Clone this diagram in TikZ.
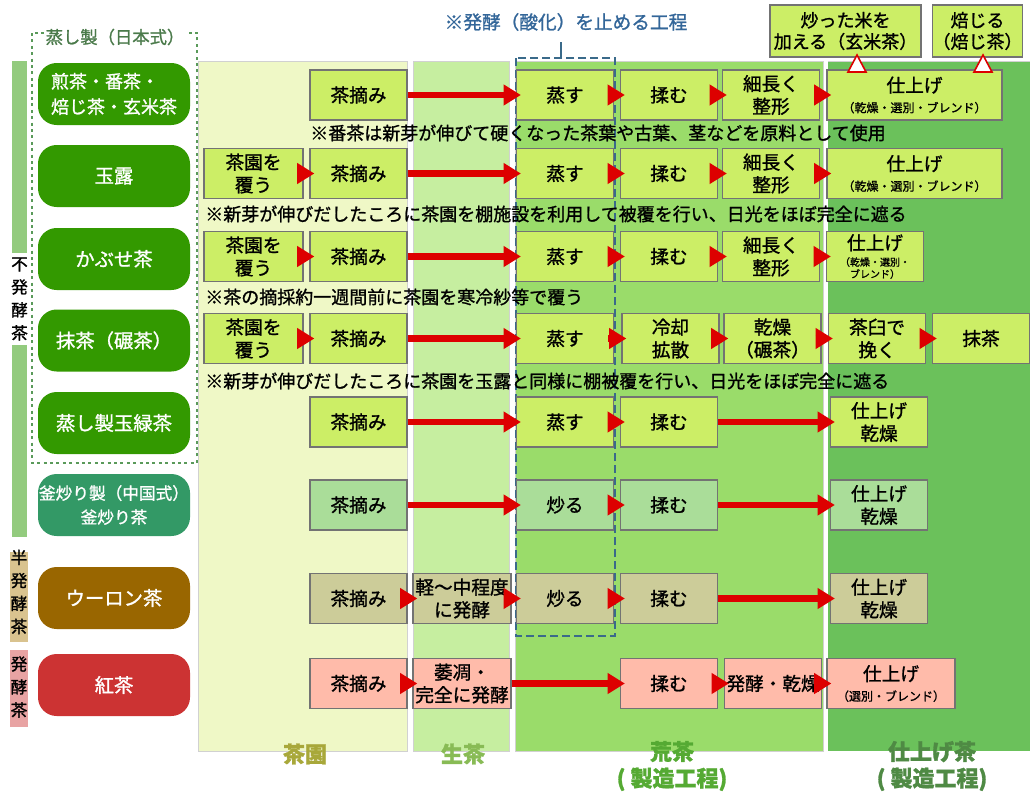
\documentclass[tikz,border=0pt]{standalone}
\usepackage{fontspec}
\setmainfont{Noto Sans CJK JP}[FakeBold=1.2]
\usetikzlibrary{arrows.meta}
\definecolor{cYG}{HTML}{CCEE66}
\definecolor{cMint}{HTML}{AADD99}
\definecolor{cKhaki}{HTML}{CCCC99}
\definecolor{cPink}{HTML}{FFBBAA}
\definecolor{cCatG}{HTML}{339900}
\definecolor{cCatT}{HTML}{339966}
\definecolor{cCatB}{HTML}{996600}
\definecolor{cCatR}{HTML}{CC3333}
\definecolor{colA}{HTML}{EFF8C6}
\definecolor{colB}{HTML}{C6EEA0}
\definecolor{colC}{HTML}{9ADC6A}
\definecolor{colD}{HTML}{6BC15B}
\definecolor{cRed}{HTML}{DD0000}
\definecolor{cBlue}{HTML}{336699}
\definecolor{cDash}{HTML}{3A6A8A}
\definecolor{cDot}{HTML}{5A9A5A}
\definecolor{cTitle}{HTML}{4A7A4A}
\definecolor{barG}{HTML}{93CB7E}
\definecolor{barT}{HTML}{D9C38F}
\definecolor{barP}{HTML}{E8A3A3}
\definecolor{labA}{HTML}{A8A83A}
\definecolor{labB}{HTML}{88BB55}
\definecolor{labC}{HTML}{55AA33}
\definecolor{labD}{HTML}{4F8A44}
\newcommand\smjp{\fontsize{9}{11}\selectfont}
\newcommand\xsjp{\fontsize{7.5}{8.5}\selectfont}
\begin{document}
\begin{tikzpicture}[x=0.75pt,y=-0.75pt,
 pbox/.style={draw=black!55, line width=0.9pt, minimum width=72.75pt, minimum height=37.5pt, inner sep=0pt, align=center, font=\fontsize{14}{17}\selectfont},
 yg/.style={pbox, fill=cYG},
 mint/.style={pbox, fill=cMint},
 khaki/.style={pbox, fill=cKhaki},
 pinkb/.style={pbox, fill=cPink},
 cat/.style={rounded corners=14pt, minimum width=114pt, minimum height=46.5pt, inner sep=0pt, text=white, align=center, font=\fontsize{14.5}{19}\selectfont},
 arr/.style={draw=cRed, line width=5pt, -{Triangle[length=13pt,width=15pt]}},
 note/.style={anchor=west, inner sep=0pt, font=\fontsize{13.5}{16}\selectfont},
 side/.style={inner sep=0pt, align=center, font=\fontsize{12.5}{17.25}\selectfont},
 collab/.style={inner sep=0pt, align=center, font=\bfseries\fontsize{16.5}{20}\selectfont}]
\useasboundingbox (0,0) rectangle (1030,796);
\fill[white] (0,0) rectangle (1030,796);
% column backgrounds
\fill[colA] (198,61) rectangle (407,751);
\fill[colB] (413,61) rectangle (509,751);
\fill[colC] (515,61) rectangle (823,751);
\fill[colD] (828,61) rectangle (1030,751);
\draw[black!18, line width=0.6pt] (198,61) rectangle (407,751) (413,61) rectangle (509,751) (515,61) rectangle (823,751) (828,61) -- (1030,61);
% side bars
\fill[barG] (12,61) rectangle (27,253);
\fill[barG] (12,345) rectangle (27,537);
\fill[barT] (10,552) rectangle (28,642);
\fill[barP] (10,650) rectangle (28,727);
\node[side] (s1) at (19.5,299) {不\\発\\酵\\茶};
\node[side] (s2) at (19,592) {半\\発\\酵\\茶};
\node[side] (s3) at (19,687) {発\\酵\\茶};
% dotted group
\draw[cDot, line width=2.2pt, dash pattern=on 2.2pt off 2.6pt] (32,33) rectangle (197,463);
\node[fill=white, inner sep=1pt, text=cTitle, font=\fontsize{13}{15}\selectfont] (gt) at (115,37) {蒸し製（日本式）};
% dashed region
\draw[cDash, line width=2pt, dash pattern=on 6pt off 3pt] (516,58) rectangle (615,636);
\node[text=cBlue, inner sep=0pt, font=\fontsize{14}{16}\selectfont] (ann) at (566,22) {※発酵（酸化）を止める工程};
\coordinate (tk) at (561,58);
\draw[cDash, line width=1.2pt] (561,42) -- (tk);
% categories
\node[cat, fill=cCatG, align=left, font=\fontsize{13.5}{19}\selectfont] (c1) at (114,94) {煎茶・番茶・\\焙じ茶・玄米茶};
\node[cat, fill=cCatG] (c2) at (114,176) {玉露};
\node[cat, fill=cCatG] (c3) at (114,259) {かぶせ茶};
\node[cat, fill=cCatG] (c4) at (114,340.5) {抹茶（碾茶）};
\node[cat, fill=cCatG] (c5) at (114,423) {蒸し製玉緑茶};
\node[cat, fill=cCatT, font=\fontsize{12.5}{18}\selectfont] (c6) at (114,505) {釜炒り製（中国式）\\釜炒り茶};
\node[cat, fill=cCatB] (c7) at (114,598) {ウーロン茶};
\node[cat, fill=cCatR] (c8) at (114,685) {紅茶};
% top boxes
\node[yg, minimum width=113.25pt, minimum height=39pt, font=\fontsize{13.5}{16}\selectfont] (t1) at (845.5,31) {炒った米を\\加える（玄米茶）};
\node[yg, minimum width=66.75pt, minimum height=39pt, font=\fontsize{13.5}{16}\selectfont] (t2) at (977.5,31) {焙じる\\（焙じ茶）};
% row 1
\node[yg] (b1) at (358.5,95) {茶摘み};
\node[yg] (d1) at (565,95) {蒸す};
\node[yg] (e1) at (669,95) {揉む};
\node[yg] (f1) at (771,95) {細長く\\整形};
\node[yg, minimum width=131.25pt] (g1) at (914.5,95) {仕上げ\\[-2pt]{\smjp （乾燥・選別・ブレンド）}};
\draw[cRed, fill=white, line width=1.2pt] (848,72) -- (857,55) -- (866,72) -- cycle;
\draw[cRed, fill=white, line width=1.2pt] (974,72) -- (983,55) -- (992,72) -- cycle;
\node[note] (n1) at (310,133) {※番茶は新芽が伸びて硬くなった茶葉や古葉、茎などを原料として使用};
% row 2
\node[yg, minimum width=74.25pt] (a2) at (253.5,173.5) {茶園を\\覆う};
\node[yg] (b2) at (358.5,173.5) {茶摘み};
\node[yg] (d2) at (565,173.5) {蒸す};
\node[yg] (e2) at (669,173.5) {揉む};
\node[yg] (f2) at (771,173.5) {細長く\\整形};
\node[yg, minimum width=131.25pt] (g2) at (914.5,173.5) {仕上げ\\[-2pt]{\smjp （乾燥・選別・ブレンド）}};
\node[note] (n2) at (205,214) {※新芽が伸びだしたころに茶園を棚施設を利用して被覆を行い、日光をほぼ完全に遮る};
% row 3
\node[yg, minimum width=74.25pt] (a3) at (253.5,256.5) {茶園を\\覆う};
\node[yg] (b3) at (358.5,256.5) {茶摘み};
\node[yg] (d3) at (565,256.5) {蒸す};
\node[yg] (e3) at (669,256.5) {揉む};
\node[yg] (f3) at (771,256.5) {細長く\\整形};
\node[yg] (g3) at (875,256.5) {仕上げ\\[-5pt]{\xsjp （乾燥・選別・}\\[-8pt]{\xsjp ブレンド）}};
\node[note] (n3) at (205,297) {※茶の摘採約一週間前に茶園を寒冷紗等で覆う};
% row 4
\node[yg, minimum width=74.25pt] (a4) at (253.5,338.5) {茶園を\\覆う};
\node[yg] (b4) at (358.5,338.5) {茶摘み};
\node[yg] (d4) at (565,338.5) {蒸す};
\node[yg] (e4) at (670.5,338.5) {冷却\\拡散};
\node[yg] (f4) at (772.5,338.5) {乾燥\\（碾茶）};
\node[yg] (h4) at (877,338.5) {茶臼で\\挽く};
\node[yg] (i4) at (981,338.5) {抹茶};
\node[note] (n4) at (205,381) {※新芽が伸びだしたころに茶園を玉露と同様に棚被覆を行い、日光をほぼ完全に遮る};
% row 5
\node[yg] (b5) at (358.5,422) {茶摘み};
\node[yg] (d5) at (565,422) {蒸す};
\node[yg] (e5) at (669,422) {揉む};
\node[yg] (j5) at (879,422) {仕上げ\\乾燥};
% row 6
\node[mint] (b6) at (358.5,505) {茶摘み};
\node[mint] (d6) at (565,505) {炒る};
\node[mint] (e6) at (669,505) {揉む};
\node[mint] (j6) at (879,505) {仕上げ\\乾燥};
% row 7
\node[khaki] (b7) at (358.5,598.5) {茶摘み};
\node[khaki, minimum width=73.5pt] (c7b) at (462,598.5) {軽〜中程度\\に発酵};
\node[khaki] (d7) at (565,598.5) {炒る};
\node[khaki] (e7) at (669,598.5) {揉む};
\node[khaki] (j7) at (879,598.5) {仕上げ\\乾燥};
% row 8
\node[pinkb] (b8) at (358.5,683.5) {茶摘み};
\node[pinkb, minimum width=73.5pt] (c8b) at (462,683.5) {萎凋・\\完全に発酵};
\node[pinkb] (e8) at (669,683.5) {揉む};
\node[pinkb] (f8) at (773,683.5) {発酵・乾燥};
\node[pinkb, minimum width=96pt] (g8) at (891,683.5) {仕上げ\\[-2pt]{\smjp （選別・ブレンド）}};
% arrows
\draw[arr] (b1.east) -- ([xshift=3.75pt]d1.west);
\draw[arr] ([xshift=-4.5pt]d1.east) -- ([xshift=3.75pt]e1.west);
\draw[arr] ([xshift=-4.5pt]e1.east) -- ([xshift=3.75pt]f1.west);
\draw[arr] ([xshift=-4.5pt]f1.east) -- ([xshift=3.75pt]g1.west);
\draw[arr] ([xshift=-4.5pt]a2.east) -- ([xshift=3.75pt]b2.west);
\draw[arr] (b2.east) -- ([xshift=3.75pt]d2.west);
\draw[arr] ([xshift=-4.5pt]d2.east) -- ([xshift=3.75pt]e2.west);
\draw[arr] ([xshift=-4.5pt]e2.east) -- ([xshift=3.75pt]f2.west);
\draw[arr] ([xshift=-4.5pt]f2.east) -- ([xshift=3.75pt]g2.west);
\draw[arr] ([xshift=-4.5pt]a3.east) -- ([xshift=3.75pt]b3.west);
\draw[arr] (b3.east) -- ([xshift=3.75pt]d3.west);
\draw[arr] ([xshift=-4.5pt]d3.east) -- ([xshift=3.75pt]e3.west);
\draw[arr] ([xshift=-4.5pt]e3.east) -- ([xshift=3.75pt]f3.west);
\draw[arr] ([xshift=-4.5pt]f3.east) -- ([xshift=3.75pt]g3.west);
\draw[arr] ([xshift=-4.5pt]a4.east) -- ([xshift=3.75pt]b4.west);
\draw[arr] (b4.east) -- ([xshift=3.75pt]d4.west);
\draw[arr] ([xshift=-4.5pt]d4.east) -- ([xshift=3.75pt]e4.west);
\draw[arr] ([xshift=-4.5pt]e4.east) -- ([xshift=3.75pt]f4.west);
\draw[arr] ([xshift=-4.5pt]f4.east) -- ([xshift=3.75pt]h4.west);
\draw[arr] ([xshift=-4.5pt]h4.east) -- ([xshift=3.75pt]i4.west);
\draw[arr] (b5.east) -- ([xshift=3.75pt]d5.west);
\draw[arr] ([xshift=-4.5pt]d5.east) -- ([xshift=3.75pt]e5.west);
\draw[arr] (e5.east) -- ([xshift=3.75pt]j5.west);
\draw[arr] (b6.east) -- ([xshift=3.75pt]d6.west);
\draw[arr] ([xshift=-4.5pt]d6.east) -- ([xshift=3.75pt]e6.west);
\draw[arr] (e6.east) -- ([xshift=3.75pt]j6.west);
\draw[arr] ([xshift=-4.5pt]b7.east) -- ([xshift=3.75pt]c7b.west);
\draw[arr] ([xshift=-4.5pt]c7b.east) -- ([xshift=3.75pt]d7.west);
\draw[arr] ([xshift=-4.5pt]d7.east) -- ([xshift=3.75pt]e7.west);
\draw[arr] (e7.east) -- ([xshift=3.75pt]j7.west);
\draw[arr] ([xshift=-4.5pt]b8.east) -- ([xshift=3.75pt]c8b.west);
\draw[arr] (c8b.east) -- ([xshift=3.75pt]e8.west);
\draw[arr] ([xshift=-4.5pt]e8.east) -- ([xshift=3.75pt]f8.west);
\draw[arr] ([xshift=-4.5pt]f8.east) -- ([xshift=3.75pt]g8.west);
% column labels
\node[collab, text=labA] (l1) at (305,754) {茶園};
\node[collab, text=labB] (l2) at (463,754) {生茶};
\node[collab, text=labC] (l3) at (672,766) {荒茶\\( 製造工程)};
\node[collab, text=labD] (l4) at (932,766) {仕上げ茶\\( 製造工程)};
\end{tikzpicture}
\end{document}
